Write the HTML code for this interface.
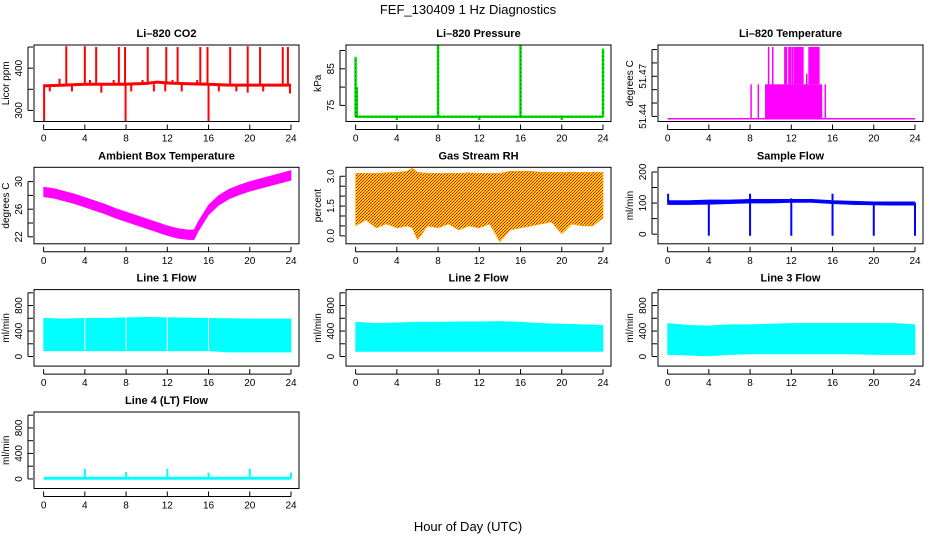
<!DOCTYPE html>
<html><head><meta charset="utf-8"><style>
html,body{margin:0;padding:0;background:#fff;}
svg{display:block;font-family:"Liberation Sans",Arial,sans-serif;}
</style></head><body>
<svg id="chart" width="936" height="540" viewBox="0 0 936 540" xmlns="http://www.w3.org/2000/svg">
<defs>
<pattern id="rhpat" width="3" height="3" patternUnits="userSpaceOnUse">
<rect width="3" height="3" fill="#ffd700"/><rect x="0" y="0" width="1" height="1" fill="#ff0000"/><rect x="2" y="1" width="1" height="1" fill="#ff0000"/><rect x="1" y="2" width="1" height="1" fill="#ff2000"/>
</pattern>
</defs>
<text x="468" y="14" font-size="13" text-anchor="middle">FEF_130409  1 Hz Diagnostics</text>
<text x="468" y="531" font-size="13" text-anchor="middle">Hour of Day (UTC)</text>
</svg>
<script>
// ---- data ----
const xTicks = [0,4,8,12,16,20,24];
const co2Hours = [0,2,4,6,8,10,11,12,14,16,18,20,22,24];
const co2Base = [358,360,362,362,362,364,367,365,363,362,360,360,360,360];
const co2SpikeT = [2.2,4.0,5.1,7.3,7.9,10.1,11.9,13.0,15.2,15.9,18.1,19.8,21.0,23.2,23.7,0.05,7.95,16.0,1.55,4.5,6.8,9.6,12.5,14.9,0.6,2.75,5.6,8.5,10.7,11.8,13.4,17.0,18.7,19.8,21.3,23.9];
const co2SpikeV = [452,452,450,450,450,450,450,450,450,450,450,452,450,450,450,275,275,275,375,372,372,372,372,372,345,345,342,345,345,345,345,345,345,342,345,340];
const presBase = 71.9;
const presSpikeT = [0,0.12,8,16,24,4,12,20];
const presSpikeV = [88.2,80,91.5,91.5,90.5,71,71,71];
const tempBase = 51.4383;
const tempBlock = [9.45,15.0,51.464];
const tempTopStart = [11.3,11.7,12.2,13.65];
const tempTopEnd = [11.6,12.0,13.2,14.75];
const tempSpikeT = [9.8,10.2,12.1,13.5,8.1,8.8,15.3];
const tempSpikeV = [51.492,51.492,51.492,51.472,51.464,51.464,51.464];
const ambHours = [0,1,2,3,4,5,6,7,8,9,10,11,12,13,14,14.6,15,16,17,18,19,20,21,22,23,24];
const ambHi = [29.2,29.0,28.6,28.2,27.7,27.2,26.7,26.1,25.6,25.1,24.6,24.1,23.6,23.2,23.0,23.0,24.2,26.6,28.0,28.9,29.5,30.0,30.4,30.8,31.2,31.6];
const ambLo = [27.8,27.6,27.2,26.8,26.3,25.8,25.3,24.7,24.2,23.7,23.2,22.7,22.2,21.8,21.6,21.6,22.8,25.2,26.6,27.5,28.1,28.6,29.0,29.4,29.8,30.2];
const rhHours = [0,1,2,3,4,5,5.5,6,7,8,9,10,11,12,13,14,15,16,17,18,19,20,21,22,23,24];
const rhHi = [3.15,3.15,3.15,3.18,3.2,3.25,3.4,3.2,3.15,3.15,3.15,3.15,3.18,3.15,3.15,3.15,3.25,3.25,3.25,3.2,3.2,3.2,3.2,3.2,3.2,3.2];
const rhLo = [0.5,0.8,0.4,0.6,0.4,0.5,0.4,-0.2,0.5,0.4,0.6,0.3,0.5,0.4,0.6,-0.3,0.3,0.4,0.5,0.6,0.7,0.1,0.6,0.5,0.5,0.9];
const sfHours = [0,2,4,6,8,10,12,14,16,18,20,22,24];
const sfHi = [108,108,110,110,112,112,112,112,108,106,104,104,104];
const sfLo = [95,95,96,98,100,100,102,102,98,95,94,93,93];
const sfSpikeT = [4,8,12,16,20,24,0.05,8,16,12];
const sfSpikeV = [-5,-5,-5,-5,-5,-5,130,130,130,115];
const flowHours = [0,2,4,6,8,10,12,14,16,18,20,22,24];
const line1Hi = [600,590,600,600,610,615,610,605,600,595,590,590,590];
const line1Lo = [90,90,90,90,90,90,90,90,90,70,70,70,70];
const line2Hi = [540,520,530,540,540,545,545,550,540,520,510,500,490];
const line2Lo = [80,80,80,80,80,80,80,80,80,80,80,80,80];
const line3Hi = [520,490,480,500,500,510,520,520,520,520,520,520,500];
const line3Lo = [30,20,10,30,40,40,40,40,40,40,30,30,30];
const flowGaps = [4,8,12,16,20];
const line4Base = 10;
const line4SpikeT = [4,8,12,16,20,24];
const line4SpikeV = [160,110,160,100,160,100];

// ---- drawing ----
const NS = "http://www.w3.org/2000/svg";
const svg = document.getElementById('chart');
function mk(tag, attrs, parent){
  const e = document.createElementNS(NS, tag);
  for (const k in attrs) e.setAttribute(k, attrs[k]);
  (parent||svg).appendChild(e);
  return e;
}
const colLeft = [34,346,658], rowTop = [45,167.3,289.6,412], W = 265, H = 76.5;

function panel(col,row,name,title,ylab,ymin,ymax,yt,ylabels){
  const L = colLeft[col], T = rowTop[row], B = T+H, R = L+W;
  const g = mk('g',{});
  
  
  const xs = h => L+9.6+h*(247.4/24);
  const ys = v => B-(v-ymin)/(ymax-ymin)*H;
  const clip = mk('clipPath',{id:'clip-'+name}, g);
  mk('rect',{x:L,y:T,width:W,height:H},clip);
  const plot = mk('g',{'clip-path':'url(#clip-'+name+')'}, g);
  
  
  const box = mk('rect',{x:L,y:T,width:W,height:H,fill:'none',stroke:'#000','stroke-width':1},g);
  
  
  const t = mk('text',{x:L+W/2,y:T-8,'font-size':11,'font-weight':'bold','text-anchor':'middle'},g);
  t.textContent = title;
  
  
  const xa = mk('g',{},g);
  
  
  const ay = B+8;
  mk('line',{x1:xs(0),x2:xs(24),y1:ay,y2:ay,stroke:'#000'},xa);
  xTicks.forEach(v=>{
    mk('line',{x1:xs(v),x2:xs(v),y1:ay-5,y2:ay,stroke:'#000'},xa);
    const tl = mk('text',{x:xs(v),y:B+20,'font-size':10,'text-anchor':'middle'},xa);
    tl.textContent = v;
    
    
  });
  const ya = mk('g',{},g);
  
  
  const ax = L-6;
  mk('line',{x1:ax,x2:ax,y1:ys(yt[0]),y2:ys(yt[yt.length-1]),stroke:'#000'},ya);
  yt.forEach((v,i)=>{
    mk('line',{x1:ax,x2:ax+5,y1:ys(v),y2:ys(v),stroke:'#000'},ya);
    if (ylabels[i]!==''){
      const tl = mk('text',{x:L-12,y:ys(v),'font-size':10,'text-anchor':'middle',transform:'rotate(-90 '+(L-12)+' '+ys(v)+')'},ya);
      tl.textContent = ylabels[i];
      
      
    }
  });
  const yl = mk('text',{x:L-25,y:T+H/2,'font-size':10,'text-anchor':'middle',transform:'rotate(-90 '+(L-25)+' '+(T+H/2)+')'},ya);
  yl.textContent = ylab;
  
  
  return {plot,xs,ys};
}
function band(p,hours,hi,lo,fill,name){
  let d = hours.map((h,i)=>(i?'L':'M')+p.xs(h)+','+p.ys(hi[i])).join('');
  for (let i=hours.length-1;i>=0;i--) d += 'L'+p.xs(hours[i])+','+p.ys(lo[i]);
  const e = mk('path',{d:d+'Z',fill:fill,stroke:fill==='url(#rhpat)'?'#ffa000':fill,'stroke-width':0.6},p.plot);
  
  
  return e;
}
function spikes(p,ts,vs,base,color,w,name,dash){
  ts.forEach((t,i)=>{
    const e = mk('line',{x1:p.xs(t),x2:p.xs(t),y1:p.ys(base),y2:p.ys(vs[i]),stroke:color,'stroke-width':w},p.plot);
    if (dash) e.setAttribute('stroke-dasharray', dash);
    
    
  });
}

// CO2
let p = panel(0,0,'co2','Li\u2013820 CO2','Licor ppm',273.8,454.8,[300,350,400,450],['300','','400','']);
let pl = mk('polyline',{points:co2Hours.map((h,i)=>p.xs(h)+','+p.ys(co2Base[i])).join(' '),fill:'none',stroke:'#ff0000','stroke-width':3},p.plot);


spikes(p,co2SpikeT,co2SpikeV,362,'#ff0000',2,'co2-spike');

// Pressure
p = panel(1,0,'pressure','Li\u2013820 Pressure','kPa',70.6,91.5,[75,80,85,90],['75','','85','']);
pl = mk('line',{x1:p.xs(0),x2:p.xs(24),y1:p.ys(presBase),y2:p.ys(presBase),stroke:'#00dd00','stroke-width':2.5},p.plot);


spikes(p,presSpikeT,presSpikeV,presBase,'#00dd00',2.5,'pressure-spike');
pl = mk('line',{x1:p.xs(0),x2:p.xs(24),y1:p.ys(presBase),y2:p.ys(presBase),stroke:'#000','stroke-width':0.6,'stroke-dasharray':'1 3'},p.plot);


spikes(p,presSpikeT,presSpikeV,presBase,'#000',0.6,'pressure-dotted-spike','1 3');

// Temperature
p = panel(2,0,'li820-temp','Li\u2013820 Temperature','degrees C',51.4362,51.4934,[51.44,51.45,51.46,51.47,51.48,51.49],['51.44','','','51.47','','']);
pl = mk('line',{x1:p.xs(0),x2:p.xs(24),y1:p.ys(tempBase),y2:p.ys(tempBase),stroke:'#ff00ff','stroke-width':1.5},p.plot);


pl = mk('rect',{x:p.xs(tempBlock[0]),y:p.ys(tempBlock[2]),width:p.xs(tempBlock[1])-p.xs(tempBlock[0]),height:p.ys(tempBase)-p.ys(tempBlock[2]),fill:'#ff00ff'},p.plot);


tempTopStart.forEach((s,i)=>{
  const r = mk('rect',{x:p.xs(s),y:p.ys(51.492),width:p.xs(tempTopEnd[i])-p.xs(s),height:p.ys(tempBlock[2])-p.ys(51.492),fill:'#ff00ff'},p.plot);
  
  
});
spikes(p,tempSpikeT,tempSpikeV,tempBase,'#ff00ff',1.5,'temperature-spike');

// Ambient
p = panel(0,1,'ambient','Ambient Box Temperature','degrees C',20.99,32.07,[22,24,26,28,30],['22','','26','','30']);
band(p,ambHours,ambHi,ambLo,'#ff00ff','ambient-band');

// RH
p = panel(1,1,'rh','Gas Stream RH','percent',-0.4,3.45,[0,0.5,1,1.5,2,2.5,3],['0.0','','','1.5','','','3.0']);
band(p,rhHours,rhHi,rhLo,'url(#rhpat)','rh-band');

// Sample flow
p = panel(2,1,'sample-flow','Sample Flow','ml/min',-31,215,[0,50,100,150,200],['0','','100','','200']);
band(p,sfHours,sfHi,sfLo,'#0000ff','sample-flow-band');
spikes(p,sfSpikeT,sfSpikeV,100,'#0000ff',2,'sample-flow-spike');

// Line flows
const flowTicks = [0,200,400,600,800,1000], flowLabels = ['0','','400','','800',''];
[[line1Hi,line1Lo,'line-1-flow','Line 1 Flow',0],[line2Hi,line2Lo,'line-2-flow','Line 2 Flow',1],[line3Hi,line3Lo,'line-3-flow','Line 3 Flow',2]].forEach(a=>{
  const q = panel(a[4],2,a[2],a[3],'ml/min',-150,1050,flowTicks,flowLabels);
  band(q,flowHours,a[0],a[1],'#00ffff',a[2]+'-band');
  if (a[4]===0) flowGaps.slice(0,4).forEach(gp=>{
    const e = mk('line',{x1:q.xs(gp),x2:q.xs(gp),y1:q.ys(650),y2:q.ys(100),stroke:'#fff','stroke-width':1},q.plot);
    
    
  });
});

// Line 4
p = panel(0,3,'line-4-flow','Line 4 (LT) Flow','ml/min',-150,1050,flowTicks,flowLabels);
pl = mk('line',{x1:p.xs(0),x2:p.xs(24),y1:p.ys(line4Base),y2:p.ys(line4Base),stroke:'#00ffff','stroke-width':3},p.plot);


spikes(p,line4SpikeT,line4SpikeV,line4Base,'#00ffff',2,'line-4-flow-spike');
</script>
</body></html>
